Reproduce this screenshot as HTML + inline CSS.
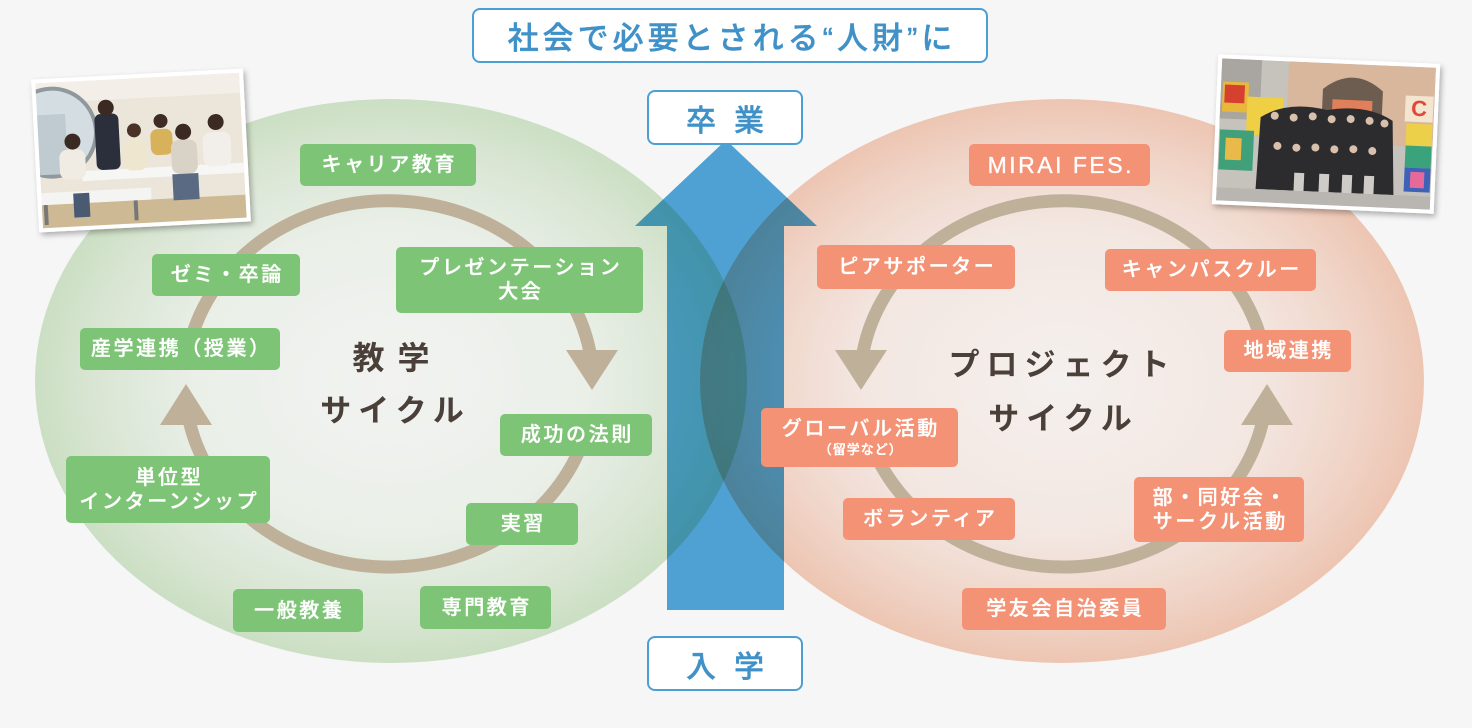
<!DOCTYPE html>
<html>
<head>
<meta charset="utf-8">
<style>
  html,body{margin:0;padding:0;}
  body{width:1472px;height:728px;overflow:hidden;background:#f6f6f6;position:relative;
    font-family:"Liberation Sans","Noto Sans CJK JP",sans-serif;}
  svg.bg{position:absolute;left:0;top:0;}
  .box{position:absolute;box-sizing:border-box;border-radius:5px;color:#fff;
    display:flex;flex-direction:column;align-items:center;justify-content:center;
    font-size:20px;letter-spacing:2.6px;line-height:24px;font-weight:500;text-align:center;white-space:nowrap;
    -webkit-text-stroke:0.35px #fff;}
  .box span{display:block;padding-left:2.6px;}
  .g{background:#7ec476;}
  .o{background:#f49276;}
  .frame{position:absolute;box-sizing:border-box;background:#fff;border:2.5px solid #4c9fd5;border-radius:8px;
    color:#3f91c8;display:flex;align-items:center;justify-content:center;font-weight:500;white-space:nowrap;
    -webkit-text-stroke:0.4px #3f91c8;}
  .lbl{position:absolute;color:#4a4039;font-weight:bold;white-space:nowrap;transform:translate(-50%,-50%);text-align:center;}
</style>
</head>
<body>
<svg class="bg" width="1472" height="728" viewBox="0 0 1472 728" xmlns="http://www.w3.org/2000/svg">
  <defs>
    <radialGradient id="gg" cx="0.5" cy="0.5" r="0.5">
      <stop offset="0" stop-color="#fbfcfa"/>
      <stop offset="0.55" stop-color="#f3f8f1"/>
      <stop offset="0.82" stop-color="#e2efdc"/>
      <stop offset="1" stop-color="#d3e8cb"/>
    </radialGradient>
    <radialGradient id="og" cx="0.5" cy="0.5" r="0.5">
      <stop offset="0" stop-color="#fdf9f7"/>
      <stop offset="0.55" stop-color="#fcf0ea"/>
      <stop offset="0.82" stop-color="#f9ddd0"/>
      <stop offset="1" stop-color="#f6cdb9"/>
    </radialGradient>
    <filter id="sh" x="-10%" y="-10%" width="125%" height="130%">
      <feDropShadow dx="2" dy="3" stdDeviation="3" flood-color="#000" flood-opacity="0.3"/>
    </filter>
    <clipPath id="lc"><rect x="-102" y="-72" width="204" height="145"/></clipPath>
    <clipPath id="rc"><rect x="-107" y="-71" width="214" height="142"/></clipPath>
  </defs>

  <!-- central arrow -->
  <polygon points="726,140 817,226 784,226 784,610 667,610 667,226 635,226" fill="#4fa1d4"/>

  <!-- ellipses (multiply over arrow) -->
  <ellipse cx="391" cy="381" rx="356" ry="282" fill="url(#gg)" style="mix-blend-mode:multiply"/>
  <ellipse cx="1062" cy="381" rx="362" ry="282" fill="url(#og)" style="mix-blend-mode:multiply"/>

  <!-- rings -->
  <g fill="none" stroke="#bfb199" stroke-width="13">
    <path d="M186.7,360 A204,183 0 0 1 589.9,352"/>
    <path d="M586.5,430 A204,183 0 0 1 189.7,423"/>
    <path d="M1265.3,360 A203.5,183 0 0 0 863.1,352"/>
    <path d="M866.5,430 A203.5,183 0 0 0 1262.3,423"/>
  </g>
  <g fill="#bfb199">
    <polygon points="566,350 618,350 592,390"/>
    <polygon points="160,425 212,425 186,384"/>
    <polygon points="835,350 887,350 861,390"/>
    <polygon points="1241,425 1293,425 1267,384"/>
  </g>

  <!-- left photo -->
  <g transform="translate(141,150) rotate(-3)">
    <rect x="-106" y="-76" width="212" height="153" fill="#fff" filter="url(#sh)"/>
    <g clip-path="url(#lc)">
      <rect x="-102" y="-72" width="204" height="145" fill="#ece6da"/>
      <rect x="-102" y="-72" width="204" height="20" fill="#f3efe8"/>
      <circle cx="-88" cy="-22" r="44" fill="#d4dde1" stroke="#8f989c" stroke-width="4"/>
      <rect x="-102" y="-40" width="28" height="60" fill="#bfcbd0"/>
      <rect x="-102" y="50" width="204" height="25" fill="#cdb994"/>
      <rect x="-60" y="18" width="162" height="10" fill="#f6f6f4"/>
      <rect x="-102" y="38" width="110" height="12" fill="#f4f4f2"/>
      <rect x="-100" y="50" width="4" height="20" fill="#777"/>
      <rect x="-10" y="50" width="4" height="20" fill="#777"/>
      <rect x="-45" y="-38" width="24" height="56" rx="6" fill="#2b2e3b"/>
      <circle cx="-33" cy="-44" r="8" fill="#3a2a22"/>
      <rect x="-82" y="-4" width="26" height="30" rx="8" fill="#f1ece3"/>
      <circle cx="-68" cy="-12" r="8" fill="#3a2a22"/>
      <rect x="-18" y="-10" width="24" height="30" rx="8" fill="#efe6cf"/>
      <circle cx="-6" cy="-20" r="7" fill="#4a3226"/>
      <rect x="10" y="-20" width="22" height="26" rx="7" fill="#d7b25a"/>
      <circle cx="21" cy="-28" r="7" fill="#3e2c22"/>
      <rect x="30" y="-8" width="26" height="34" rx="8" fill="#d9d2c6"/>
      <circle cx="43" cy="-16" r="8" fill="#3a2a22"/>
      <rect x="62" y="-14" width="28" height="34" rx="8" fill="#f2efea"/>
      <circle cx="76" cy="-24" r="8" fill="#3a2a22"/>
      <rect x="30" y="26" width="26" height="26" fill="#5a6a82"/>
      <rect x="-70" y="40" width="16" height="24" fill="#4a5a72"/>
    </g>
  </g>

  <!-- right photo -->
  <g transform="translate(1326,134) rotate(2.5)">
    <rect x="-111" y="-75" width="222" height="150" fill="#fff" filter="url(#sh)"/>
    <g clip-path="url(#rc)">
      <rect x="-107" y="-71" width="214" height="142" fill="#c6c2bc"/>
      <rect x="-40" y="-71" width="147" height="80" fill="#d8b79d"/>
      <path d="M-5,-10 L-5,-45 Q25,-70 55,-45 L55,-10 Z" fill="#6d5c50"/>
      <rect x="5" y="-35" width="40" height="12" fill="#e0805a"/>
      <rect x="-107" y="-71" width="40" height="60" fill="#a9a6a1"/>
      <rect x="-105" y="-48" width="26" height="30" fill="#e8b83a"/>
      <rect x="-103" y="-45" width="20" height="18" fill="#d6402f"/>
      <rect x="-80" y="-34" width="36" height="38" fill="#efcf44"/>
      <rect x="-106" y="0" width="34" height="40" fill="#3fa07a"/>
      <rect x="-100" y="8" width="16" height="22" fill="#e9b94a"/>
      <rect x="78" y="-42" width="28" height="26" fill="#f4e5d0"/>
      <text x="84" y="-22" font-family="Liberation Sans" font-weight="bold" font-size="22" fill="#e0483a">C</text>
      <rect x="80" y="-14" width="26" height="22" fill="#ecd04a"/>
      <rect x="80" y="8" width="26" height="22" fill="#3aa37c"/>
      <rect x="80" y="30" width="26" height="24" fill="#3e62b8"/>
      <rect x="86" y="34" width="14" height="16" fill="#e56a9a"/>
      <path d="M-66,-14 Q-40,-32 0,-24 Q40,-32 66,-16 L70,58 L-68,58 Z" fill="#2c2c2f"/>
      <g fill="#d9c0ad">
        <circle cx="-52" cy="-16" r="4"/><circle cx="-33" cy="-15" r="4"/><circle cx="-14" cy="-17" r="4"/>
        <circle cx="5" cy="-15" r="4"/><circle cx="24" cy="-16" r="4"/><circle cx="43" cy="-15" r="4"/>
        <circle cx="58" cy="-13" r="4"/>
        <circle cx="-48" cy="14" r="4"/><circle cx="-29" cy="15" r="4"/><circle cx="-10" cy="14" r="4"/>
        <circle cx="9" cy="15" r="4"/><circle cx="28" cy="14" r="4"/><circle cx="47" cy="15" r="4"/>
      </g>
      <g fill="#cfcbc6">
        <rect x="-30" y="40" width="10" height="22"/><rect x="-5" y="40" width="10" height="22"/>
        <rect x="18" y="40" width="10" height="22"/><rect x="40" y="40" width="10" height="22"/>
      </g>
      <rect x="-107" y="58" width="214" height="14" fill="#b9b6b1"/>
    </g>
  </g>
</svg>

<!-- top title -->
<div class="frame" style="left:472px;top:8px;width:516px;height:55px;font-size:31px;letter-spacing:4px;padding-left:4px;">社会で必要とされる“人財”に</div>
<div class="frame" style="left:647px;top:90px;width:156px;height:55px;font-size:30px;letter-spacing:18px;padding-left:18px;">卒業</div>
<div class="frame" style="left:647px;top:636px;width:156px;height:55px;font-size:30px;letter-spacing:18px;padding-left:18px;">入学</div>

<!-- cycle labels -->
<div class="lbl" style="left:391px;top:356px;font-size:32px;letter-spacing:13px;padding-left:13px;">教学</div>
<div class="lbl" style="left:392px;top:408px;font-size:31px;letter-spacing:7px;padding-left:7px;">サイクル</div>
<div class="lbl" style="left:1059px;top:362px;font-size:31px;letter-spacing:7px;padding-left:7px;">プロジェクト</div>
<div class="lbl" style="left:1060px;top:416px;font-size:31px;letter-spacing:7px;padding-left:7px;">サイクル</div>

<!-- green boxes -->
<div class="box g" style="left:300px;top:144px;width:176px;height:42px;"><span>キャリア教育</span></div>
<div class="box g" style="left:152px;top:254px;width:148px;height:42px;"><span>ゼミ・卒論</span></div>
<div class="box g" style="left:396px;top:247px;width:247px;height:66px;"><span>プレゼンテーション</span><span>大会</span></div>
<div class="box g" style="left:80px;top:328px;width:200px;height:42px;"><span>産学連携（授業）</span></div>
<div class="box g" style="left:500px;top:414px;width:152px;height:42px;"><span>成功の法則</span></div>
<div class="box g" style="left:66px;top:456px;width:204px;height:67px;"><span>単位型</span><span>インターンシップ</span></div>
<div class="box g" style="left:466px;top:503px;width:112px;height:42px;"><span>実習</span></div>
<div class="box g" style="left:233px;top:589px;width:130px;height:43px;"><span>一般教養</span></div>
<div class="box g" style="left:420px;top:586px;width:131px;height:43px;"><span>専門教育</span></div>

<!-- orange boxes -->
<div class="box o" style="left:969px;top:144px;width:181px;height:42px;font-size:23px;letter-spacing:2.5px;"><span>MIRAI FES.</span></div>
<div class="box o" style="left:817px;top:245px;width:198px;height:44px;"><span>ピアサポーター</span></div>
<div class="box o" style="left:1105px;top:249px;width:211px;height:42px;"><span>キャンパスクルー</span></div>
<div class="box o" style="left:1224px;top:330px;width:127px;height:42px;"><span>地域連携</span></div>
<div class="box o" style="left:761px;top:408px;width:197px;height:59px;"><span style="line-height:24px;">グローバル活動</span><span style="font-size:13px;line-height:17px;letter-spacing:1px;">（留学など）</span></div>
<div class="box o" style="left:843px;top:498px;width:172px;height:42px;"><span>ボランティア</span></div>
<div class="box o" style="left:1134px;top:477px;width:170px;height:65px;"><span>部・同好会・</span><span>サークル活動</span></div>
<div class="box o" style="left:962px;top:588px;width:204px;height:42px;"><span>学友会自治委員</span></div>
</body>
</html>
